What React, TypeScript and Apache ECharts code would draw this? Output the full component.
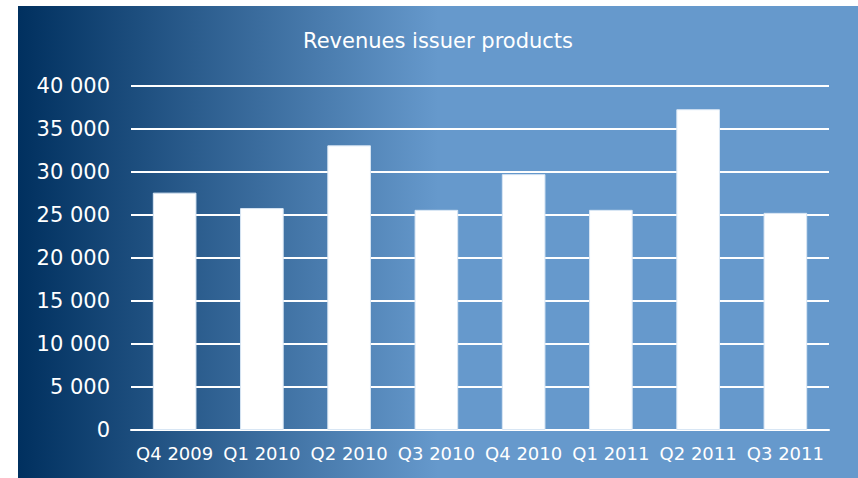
import React, { useEffect, useRef } from "react";
import * as echarts from "echarts";

const categories = ["Q4 2009", "Q1 2010", "Q2 2010", "Q3 2010", "Q4 2010", "Q1 2011", "Q2 2011", "Q3 2011"];
const revenues = [27600, 25800, 33100, 25600, 29750, 25600, 37300, 25250];
const titleText = "Revenues issuer products";

const fmt = (v: number) => {
  const s = String(Math.round(v));
  return s.replace(/\B(?=(\d{3})+(?!\d))/g, " ");
};

export default function App() {
  const ref = useRef<HTMLDivElement>(null);
  useEffect(() => {
    if (!ref.current) return;
    const chart = echarts.init(ref.current, null, { renderer: "svg" });
    const font = "'DejaVu Sans', Verdana, sans-serif";
    chart.setOption({
      animation: false,
      backgroundColor: "#ffffff",
      graphic: [
        {
          type: "rect",
          z: -10,
          silent: true,
          shape: { x: 18, y: 6, width: 840, height: 472 },
          style: {
            fill: new echarts.graphic.LinearGradient(0, 0, 1, 0, [
              { offset: 0, color: "#00305f" },
              { offset: 0.5, color: "#6699cc" },
              { offset: 1, color: "#6699cc" },
            ]),
          },
        },
        {
          type: "text",
          x: 438,
          y: 41,
          style: {
            text: titleText,
            fill: "#ffffff",
            font: `21px ${font}`,
            textAlign: "center",
            textVerticalAlign: "middle",
          },
        },
      ],
      grid: { left: 131, right: 29, top: 86, bottom: 48, containLabel: false },
      xAxis: {
        type: "category",
        data: categories,
        axisLine: { show: true, lineStyle: { color: "#ffffff", width: 2 } },
        axisTick: { show: false },
        axisLabel: { color: "#ffffff", fontSize: 18, fontFamily: font, margin: 14, interval: 0 },
      },
      yAxis: {
        type: "value",
        min: 0,
        max: 40000,
        interval: 5000,
        axisLine: { show: false },
        axisTick: { show: false },
        axisLabel: { color: "#ffffff", fontSize: 21, fontFamily: font, margin: 21, formatter: fmt },
        splitLine: { show: true, lineStyle: { color: "#ffffff", width: 2 } },
      },
      series: [
        {
          type: "bar",
          data: revenues,
          barWidth: "50%",
          itemStyle: { color: "#ffffff", borderColor: "#d8e6f4", borderWidth: 1 },
          z: 3,
        },
      ],
    });
    return () => chart.dispose();
  }, []);
  return (
    <div
      ref={ref}
      style={{ position: "absolute", left: 0, top: 0, width: 858, height: 478 }}
    />
  );
}
